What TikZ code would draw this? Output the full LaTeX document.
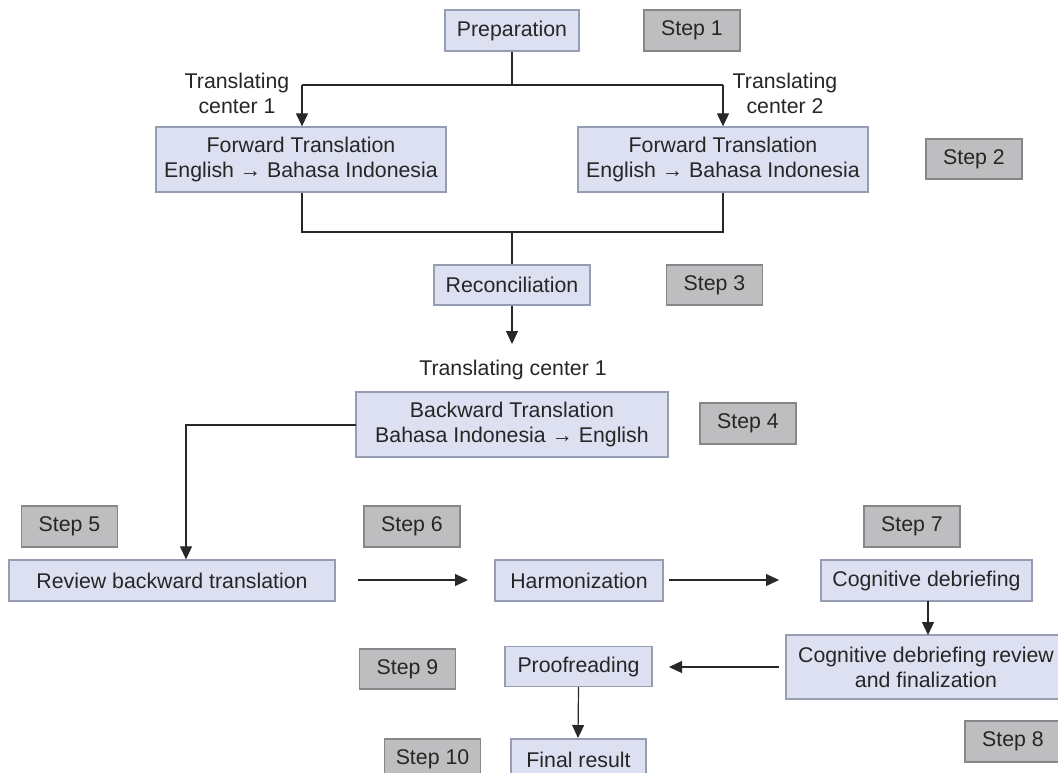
\documentclass[tikz,border=0pt]{standalone}
\usepackage{fontspec}
\setmainfont{Liberation Sans}
\usetikzlibrary{arrows.meta}
\definecolor{boxfill}{RGB}{221,224,241}
\definecolor{boxline}{RGB}{150,156,178}
\definecolor{stepfill}{RGB}{190,190,192}
\definecolor{stepline}{RGB}{135,135,138}
\definecolor{conn}{RGB}{40,40,40}
\begin{document}
\begin{tikzpicture}[x=1pt,y=-1pt,
  txt/.style={font=\fontsize{21.3}{25}\selectfont, text=black!85},
  box/.style={txt, draw=boxline, fill=boxfill, line width=1.3pt, align=center, inner sep=0pt},
  stepbox/.style={txt, draw=stepline, fill=stepfill, line width=1.3pt, align=center, inner sep=0pt, minimum width=96pt},
  lbl/.style={txt, align=center, inner sep=0pt},
  line/.style={draw=conn, line width=1.2pt},
  arr/.style={line, -{Triangle[length=13pt,width=12pt]}}]
\useasboundingbox (0,0) rectangle (1058,773);
% main boxes
\node[box, minimum width=134pt, minimum height=41pt] (prep) at (512,30.5) {Preparation};
\node[box, minimum width=290pt, minimum height=65pt] (fw1) at (301,159.5) {Forward Translation\\English \textrightarrow{} Bahasa Indonesia};
\node[box, minimum width=290pt, minimum height=65pt] (fw2) at (723,159.5) {Forward Translation\\English \textrightarrow{} Bahasa Indonesia};
\node[box, minimum width=156pt, minimum height=40pt] (rec) at (512,285) {Reconciliation};
\node[box, minimum width=312pt, minimum height=65pt] (bw) at (512,424.5) {Backward Translation\\Bahasa Indonesia \textrightarrow{} English};
\node[box, minimum width=326pt, minimum height=41pt] (rev) at (172,580.5) {Review backward translation};
\node[box, minimum width=168pt, minimum height=41pt] (harm) at (579,580.5) {Harmonization};
\node[box, minimum width=211pt, minimum height=41pt] (cog) at (926.5,580.5) {Cognitive debriefing};
\node[box, minimum width=280pt, minimum height=64pt] (cogr) at (926,667) {Cognitive debriefing review\\and finalization};
\node[box, minimum width=147pt, minimum height=40pt] (proof) at (578.5,666.5) {Proofreading};
\node[box, minimum width=135pt, minimum height=41pt] (final) at (578.5,759.5) {Final result};
% step boxes
\node[stepbox, minimum height=41pt] (s1) at (692,30.5) {Step 1};
\node[stepbox, minimum height=40pt] (s2) at (974,159) {Step 2};
\node[stepbox, minimum height=40pt] (s3) at (714.5,285) {Step 3};
\node[stepbox, minimum height=41pt] (s4) at (748,423.5) {Step 4};
\node[stepbox, minimum height=41pt] (s5) at (69.5,526.5) {Step 5};
\node[stepbox, minimum height=41pt] (s6) at (412,526.5) {Step 6};
\node[stepbox, minimum height=41pt] (s7) at (912,526.5) {Step 7};
\node[stepbox, minimum height=41pt] (s8) at (1013,741.5) {Step 8};
\node[stepbox, minimum height=40pt] (s9) at (407.5,669) {Step 9};
\node[stepbox, minimum height=41pt] (s10) at (432.5,759.5) {Step 10};
% labels
\node[lbl] (tc1) at (237,93) {Translating\\center 1};
\node[lbl] (tc2) at (785,93) {Translating\\center 2};
\node[lbl] (tc3) at (513,370) {Translating center 1};
% connectors
\coordinate (j1) at (512,85);
\coordinate (jl) at (302,85);
\coordinate (jr) at (723,85);
\draw[line] (prep.south) -- (j1);
\draw[line] (jl) -- (jr);
\draw[arr] (jl) -- (jl |- fw1.north);
\draw[arr] (jr) -- (jr |- fw2.north);
\coordinate (m1) at (302,232);
\coordinate (m2) at (723,232);
\coordinate (mj) at (512,232);
\draw[line] (m1 |- fw1.south) -- (m1) -- (m2) -- (m2 |- fw2.south);
\draw[line] (mj) -- (rec.north);
\coordinate (recend) at (512,344);
\draw[arr] (rec.south) -- (recend);
\coordinate (bwl) at (356,425);
\coordinate (bwc) at (186,425);
\draw[arr] (bwl) -- (bwc) -- (bwc |- rev.north);
\coordinate (a1s) at (358,580);
\coordinate (a1e) at (468,580);
\draw[arr] (a1s) -- (a1e);
\coordinate (a2s) at (669,580);
\coordinate (a2e) at (779,580);
\draw[arr] (a2s) -- (a2e);
\draw[arr] (928,600.5) -- (928,635);
\coordinate (a3s) at (779,667);
\coordinate (a3e) at (669,667);
\draw[arr] (a3s) -- (a3e);
\coordinate (pend) at (578,738);
\draw[arr] (proof.south) -- (pend);
\end{tikzpicture}
\end{document}
